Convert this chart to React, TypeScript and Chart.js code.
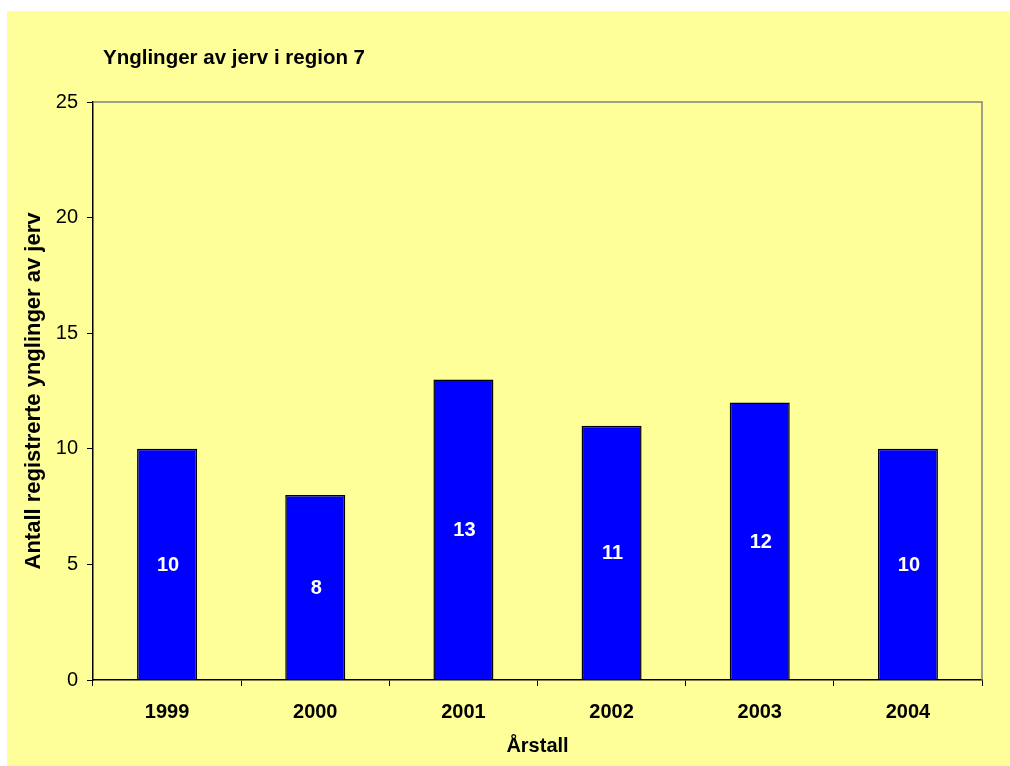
import React, { useEffect, useRef } from "react";
import { Chart, registerables } from "chart.js";

Chart.register(...registerables);

const years = ["1999", "2000", "2001", "2002", "2003", "2004"];
const broods = [10, 8, 13, 11, 12, 10];
const yTicks = [0, 5, 10, 15, 20, 25];
const chartTitle = "Ynglinger av jerv i region 7";
const yTitle = "Antall registrerte ynglinger av jerv";
const xTitle = "Årstall";

const FONT = "'Liberation Sans', Arial, sans-serif";

export default function App() {
  const ref = useRef<HTMLCanvasElement | null>(null);
  useEffect(() => {
    if (!ref.current) return;
    const textPlugin = {
      id: "texts",
      afterDatasetsDraw(chart: any) {
        const ctx = chart.ctx;
        const ca = chart.chartArea;
        ctx.save();
        // frame top/right
        ctx.strokeStyle = "#808080";
        ctx.lineWidth = 1.5;
        ctx.beginPath();
        ctx.moveTo(ca.left, ca.top);
        ctx.lineTo(ca.right, ca.top);
        ctx.lineTo(ca.right, ca.bottom);
        ctx.stroke();
        // data labels
        const meta = chart.getDatasetMeta(0);
        const ys = chart.scales.y;
        ctx.fillStyle = "#ffffff";
        ctx.font = `bold 20px ${FONT}`;
        ctx.textAlign = "center";
        ctx.textBaseline = "middle";
        meta.data.forEach((bar: any, i: number) => {
          const v = broods[i];
          ctx.fillText(String(v), bar.x + 1, ys.getPixelForValue(v / 2) + 1);
        });
        // titles
        ctx.fillStyle = "#000000";
        ctx.font = `bold 20.5px ${FONT}`;
        ctx.textAlign = "left";
        ctx.fillText(chartTitle, 96, 47);
        ctx.font = `bold 20px ${FONT}`;
        ctx.textAlign = "center";
        ctx.fillText(xTitle, (ca.left + ca.right) / 2, 735);
        ctx.font = `bold 22px ${FONT}`;
        ctx.translate(27, (ca.top + ca.bottom) / 2);
        ctx.rotate(-Math.PI / 2);
        ctx.fillText(yTitle, 0, 0);
        ctx.restore();
      },
    };
    const chart = new Chart(ref.current, {
      type: "bar",
      data: {
        labels: years,
        datasets: [
          {
            data: broods,
            backgroundColor: "#0000ff",
            borderColor: "#000000",
            borderWidth: 1.5,
            barPercentage: 0.405,
            categoryPercentage: 1,
          },
        ],
      },
      options: {
        animation: false,
        responsive: false,
        maintainAspectRatio: false,
        layout: { padding: { top: 91, right: 28, left: 0, bottom: 0 } },
        plugins: { legend: { display: false }, title: { display: false }, tooltip: { enabled: false } },
        scales: {
          x: {
            afterFit: (s: any) => {
              s.height = 86;
            },
            grid: { display: true, drawOnChartArea: false, offset: true, tickLength: 6, color: "#000000", tickColor: "#000000" },
            border: { color: "#000000", width: 1.5 },
            ticks: { color: "#000000", font: { family: FONT, size: 20, weight: "bold" }, padding: 14 },
          },
          y: {
            min: 0,
            max: 25,
            afterFit: (s: any) => {
              s.width = 86;
            },
            afterBuildTicks: (s: any) => {
              s.ticks = yTicks.map((v) => ({ value: v }));
            },
            grid: { display: true, drawOnChartArea: false, tickLength: 6, color: "#000000", tickColor: "#000000" },
            border: { color: "#000000", width: 1.5 },
            ticks: { color: "#000000", font: { family: FONT, size: 20 }, padding: 9 },
          },
        },
      },
      plugins: [textPlugin],
    });
    return () => chart.destroy();
  }, []);
  return (
    <div style={{ position: "fixed", left: 7, top: 11, width: 1003, height: 755, background: "#FFFF99" }}>
      <canvas ref={ref} width={1003} height={755} style={{ display: "block" }} />
    </div>
  );
}
